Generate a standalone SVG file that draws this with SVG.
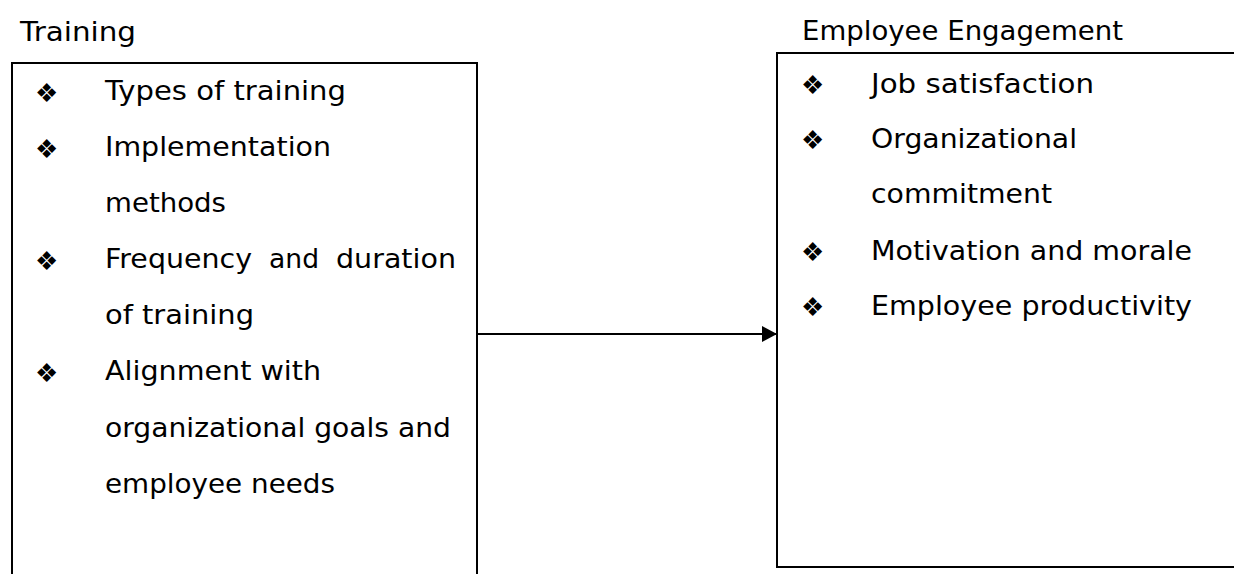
<svg xmlns="http://www.w3.org/2000/svg" width="1234" height="574" viewBox="0 0 1234 574">
<defs>
<style>
.t{font-family:"DejaVu Sans","Liberation Sans",sans-serif;font-size:27px;fill:#000}
.b{font-family:"DejaVu Sans",sans-serif;font-size:26px;fill:#000}
.box{fill:#fff;stroke:#000;stroke-width:2}
.conn{stroke:#000;stroke-width:2;fill:none}
</style>
<marker id="ah" markerWidth="16" markerHeight="16" refX="15" refY="8" orient="auto" markerUnits="userSpaceOnUse">
<path d="M0,0 L15,8 L0,16 Z" fill="#000"/>
</marker>
</defs>
<rect width="1234" height="574" fill="#fff"/>
<g id="training">
<text class="t" x="20" y="41" textLength="116" lengthAdjust="spacingAndGlyphs">Training</text>
<rect class="box" x="12" y="63" width="465" height="530"/>
<text class="b" x="35" y="102">❖</text>
<text class="t" x="105" y="100" textLength="241" lengthAdjust="spacingAndGlyphs">Types of training</text>
<text class="b" x="35" y="158">❖</text>
<text class="t" x="105" y="156" textLength="226" lengthAdjust="spacingAndGlyphs">Implementation</text>
<text class="t" x="105" y="212" textLength="121" lengthAdjust="spacingAndGlyphs">methods</text>
<text class="b" x="35" y="270">❖</text>
<text class="t" y="268"><tspan x="105" textLength="147" lengthAdjust="spacingAndGlyphs">Frequency</tspan><tspan x="269" textLength="50" lengthAdjust="spacingAndGlyphs">and</tspan><tspan x="336" textLength="120" lengthAdjust="spacingAndGlyphs">duration</tspan></text>
<text class="t" x="105" y="324" textLength="149" lengthAdjust="spacingAndGlyphs">of training</text>
<text class="b" x="35" y="382">❖</text>
<text class="t" x="105" y="380" textLength="216" lengthAdjust="spacingAndGlyphs">Alignment with</text>
<text class="t" x="105" y="437" textLength="346" lengthAdjust="spacingAndGlyphs">organizational goals and</text>
<text class="t" x="105" y="493" textLength="230" lengthAdjust="spacingAndGlyphs">employee needs</text>
</g>
<g id="engagement">
<text class="t" x="802" y="40" textLength="321" lengthAdjust="spacingAndGlyphs">Employee Engagement</text>
<rect class="box" x="777" y="53" width="480" height="514"/>
<text class="b" x="801" y="94">❖</text>
<text class="t" x="871" y="93" textLength="223" lengthAdjust="spacingAndGlyphs">Job satisfaction</text>
<text class="b" x="801" y="149">❖</text>
<text class="t" x="871" y="148" textLength="206" lengthAdjust="spacingAndGlyphs">Organizational</text>
<text class="t" x="871" y="203" textLength="181" lengthAdjust="spacingAndGlyphs">commitment</text>
<text class="b" x="801" y="261">❖</text>
<text class="t" x="871" y="260" textLength="321" lengthAdjust="spacingAndGlyphs">Motivation and morale</text>
<text class="b" x="801" y="316">❖</text>
<text class="t" x="871" y="315" textLength="321" lengthAdjust="spacingAndGlyphs">Employee productivity</text>
</g>
<g id="connectors">
<line class="conn" x1="477" y1="334" x2="777" y2="334" marker-end="url(#ah)"/>
</g>
</svg>
